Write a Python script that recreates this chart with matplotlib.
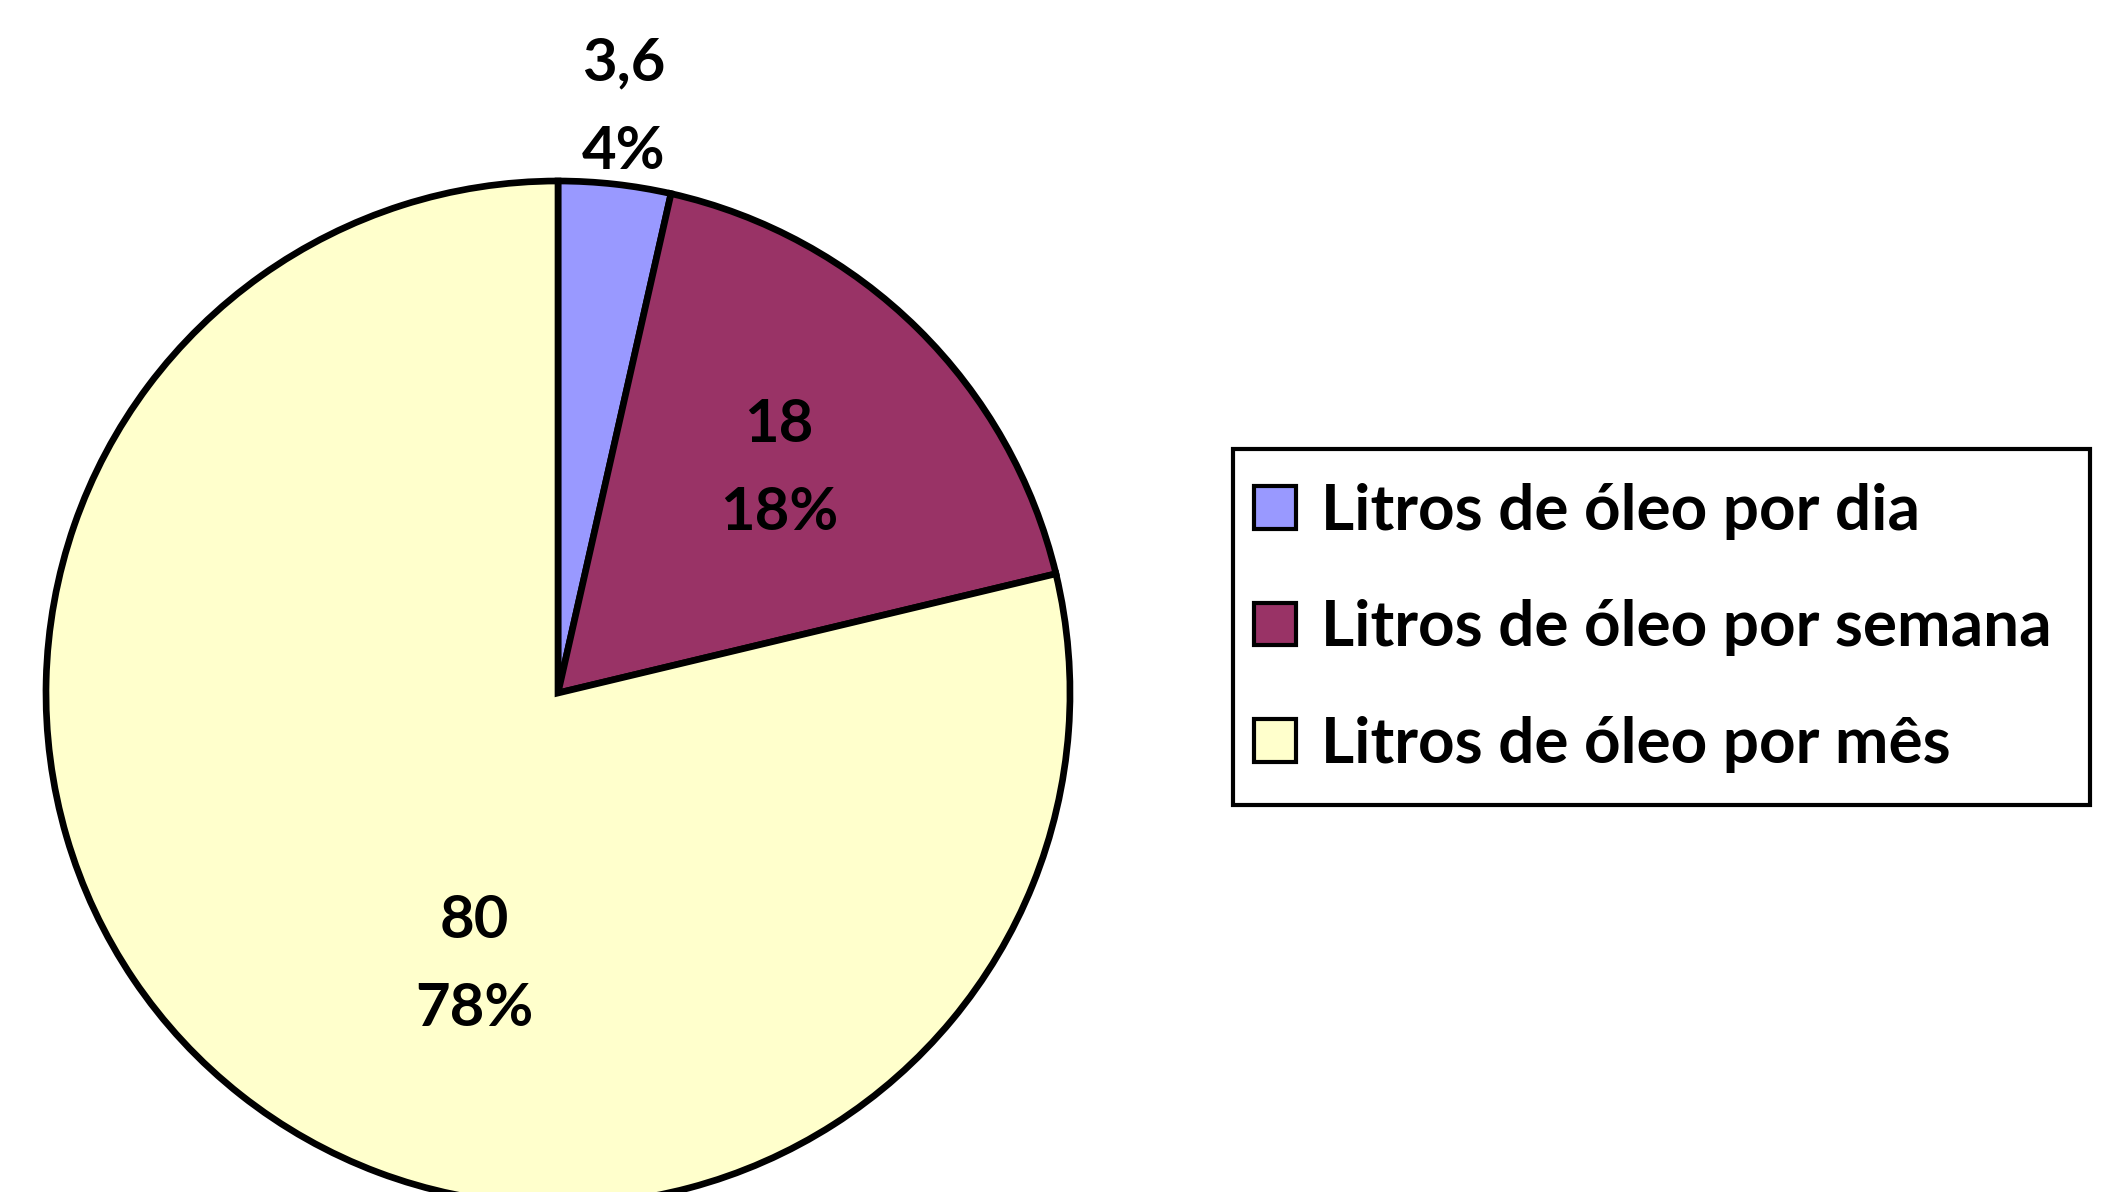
import matplotlib
matplotlib.use("Agg")
import matplotlib.pyplot as plt
from matplotlib.patches import Rectangle
import numpy as np

categories = ["Litros de óleo por dia", "Litros de óleo por semana", "Litros de óleo por mês"]
values = [3.6, 18, 80]
pct_labels = ["4%", "18%", "78%"]
colors = ["#9999FF", "#993366", "#FFFFCC"]

plt.rcParams['font.family'] = ['Lato', 'DejaVu Sans']

W, H = 2110, 1192
fig = plt.figure(figsize=(W / 100, H / 100), dpi=100)
ax = fig.add_axes([0, 0, 1, 1])

cx, cy, R = 558, H - 693, 512
wedges, _ = ax.pie(values, colors=colors, startangle=90, counterclock=False,
                   center=(cx, cy), radius=R,
                   wedgeprops=dict(edgecolor="black", linewidth=4.8))
ax.set_xlim(0, W)
ax.set_ylim(0, H)
ax.set_aspect("equal")
ax.axis("off")

# label placement: radial factor and optional angle override
label_r = [1.15, 0.615, 0.556]
label_ang = [None, None, 253]
for w, v, p, rf, ang in zip(wedges, values, pct_labels, label_r, label_ang):
    a = (w.theta1 + w.theta2) / 2 if ang is None else ang
    x = cx + rf * R * np.cos(np.radians(a))
    y = cy + rf * R * np.sin(np.radians(a))
    vtxt = f"{v:g}".replace(".", ",")
    ax.text(x, y + 44, vtxt, ha="center", va="center", fontsize=43, fontweight="bold")
    ax.text(x, y - 44, p, ha="center", va="center", fontsize=43, fontweight="bold")

# legend frame (pixel coordinates)
fx0, fy0, fx1, fy1 = 1233, 449, 2090, 805
ax.add_patch(Rectangle((fx0, H - fy1), fx1 - fx0, fy1 - fy0, facecolor="white",
                       edgecolor="black", linewidth=3, zorder=4, clip_on=False))

leg = ax.legend(wedges, categories, loc="upper left",
                bbox_to_anchor=(1254 / W, 1 - 483 / H), bbox_transform=fig.transFigure,
                borderaxespad=0, frameon=False, borderpad=0,
                prop=dict(family=['Lato', 'DejaVu Sans'], weight="bold", size=46),
                handlelength=0.65, handleheight=0.65, handletextpad=0.4,
                labelspacing=0.93)
leg.set_zorder(6)
for hnd in leg.legend_handles:
    hnd.set_linewidth(3)
    hnd.set_edgecolor("black")

fig.savefig("out.png", dpi=100)
